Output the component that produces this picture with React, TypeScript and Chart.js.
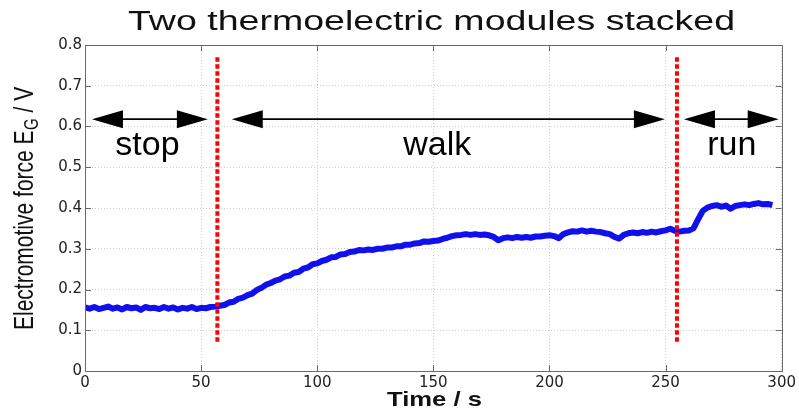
import React, { useEffect, useRef } from "react";
import { Chart, registerables } from "chart.js";

Chart.register(...registerables);

// ---- data ----
const TIME = [
  0, 2, 4, 6, 8, 10, 12, 14, 16, 18, 20, 22, 24, 26, 28, 30, 32, 34, 36, 38, 40, 42, 44, 46, 48, 50, 52, 54, 56,
  58, 60, 62, 64, 66, 68, 70, 72, 74, 76, 78, 80, 82, 84, 86, 88, 90, 92, 94, 96, 98, 100, 102, 104, 106, 108,
  110, 112, 114, 116, 118, 120, 122, 124, 126, 128, 130, 132, 134, 136, 138, 140, 142, 144, 146, 148, 150, 152,
  154, 156, 158, 160, 162, 164, 166, 168, 170, 172, 174, 176, 178, 180, 182, 184, 186, 188, 190, 192, 194, 196,
  198, 200, 202, 204, 206, 208, 210, 212, 214, 216, 218, 220, 222, 224, 226, 228, 230, 232, 234, 236, 238, 240,
  242, 244, 246, 248, 250, 252, 254, 256, 258, 260, 262, 264, 266, 268, 270, 272, 274, 276, 278, 280, 282, 284,
  286, 288, 290, 292, 294, 296,
];

const EMF = [
  0.156, 0.153, 0.157, 0.152, 0.155, 0.158, 0.153, 0.156, 0.151, 0.157, 0.154, 0.156, 0.15, 0.157, 0.154, 0.155,
  0.152, 0.157, 0.153, 0.156, 0.151, 0.155, 0.153, 0.157, 0.152, 0.155, 0.154, 0.157, 0.158,
  0.16, 0.162, 0.168, 0.17, 0.177, 0.18, 0.186, 0.19, 0.199, 0.204, 0.212, 0.216, 0.222, 0.225, 0.232, 0.234,
  0.241, 0.243, 0.251, 0.254, 0.262, 0.264, 0.27, 0.273, 0.279, 0.28, 0.286, 0.287, 0.292, 0.293, 0.297, 0.296,
  0.298, 0.297, 0.3, 0.3, 0.303, 0.303, 0.306, 0.306, 0.31, 0.31, 0.313, 0.314, 0.318, 0.317, 0.319, 0.32, 0.324,
  0.327,
  0.331, 0.333, 0.334, 0.336, 0.334, 0.336, 0.334, 0.335, 0.333, 0.329, 0.321, 0.326, 0.328, 0.326, 0.329, 0.327,
  0.329, 0.327, 0.33, 0.33, 0.332, 0.333, 0.331, 0.326, 0.336, 0.34, 0.343, 0.342, 0.345, 0.342, 0.344, 0.342,
  0.341, 0.338, 0.336, 0.329, 0.325, 0.334, 0.338, 0.34, 0.338, 0.341, 0.339, 0.342, 0.34, 0.343, 0.345, 0.349,
  0.344, 0.342, 0.344, 0.345, 0.35,
  0.372, 0.393, 0.401, 0.405, 0.407, 0.403, 0.406, 0.398, 0.405, 0.407, 0.409, 0.407, 0.41, 0.412, 0.409, 0.41,
  0.407,
];

const X_MIN = 0;
const X_MAX = 300;
const X_STEP = 50;
const Y_MIN = 0;
const Y_MAX = 0.8;
const Y_STEP = 0.1;

const PHASE_BOUNDARIES = [57.0, 254.9];
const BOUNDARY_Y_RANGE = [0.072, 0.77];

const PHASE_LABELS = ["stop", "walk", "run"];
const PHASE_LABEL_X = [26.9, 151.7, 278.5];
const PHASE_ARROW_START = [3.0, 63.2, 257.9];
const PHASE_ARROW_END = [52.9, 249.7, 298.7];
const ARROW_Y = 0.618;
const LABEL_Y = 0.531;

const TITLE = "Two thermoelectric modules stacked";
const X_TITLE = "Time / s";
const Y_TITLE_MAIN = "Electromotive force E";
const Y_TITLE_SUB = "G";
const Y_TITLE_END = " / V";

const SANS = '"Liberation Sans", Arial, Helvetica, sans-serif';

function drawFitText(
  ctx: CanvasRenderingContext2D,
  text: string,
  x: number,
  y: number,
  font: string,
  width: number
) {
  ctx.save();
  ctx.font = font;
  const w = ctx.measureText(text).width;
  const s = width / w;
  ctx.translate(x, y);
  ctx.scale(s, 1);
  ctx.textAlign = "center";
  ctx.textBaseline = "alphabetic";
  ctx.fillText(text, 0, 0);
  ctx.restore();
}

const decorPlugin = {
  id: "decor",
  afterDraw(chart: any) {
    const ctx: CanvasRenderingContext2D = chart.ctx;
    const xs = chart.scales.x;
    const ys = chart.scales.y;
    const area = chart.chartArea;

    ctx.save();
    // box
    ctx.strokeStyle = "#6a6a6a";
    ctx.lineWidth = 1;
    ctx.strokeRect(Math.round(area.left) + 0.5, Math.round(area.top) + 0.5,
      Math.round(area.right - area.left), Math.round(area.bottom - area.top));

    // inward ticks
    ctx.beginPath();
    for (let v = X_MIN; v <= X_MAX; v += X_STEP) {
      const px = Math.round(xs.getPixelForValue(v)) + 0.5;
      ctx.moveTo(px, area.bottom);
      ctx.lineTo(px, area.bottom - 6);
      ctx.moveTo(px, area.top);
      ctx.lineTo(px, area.top + 6);
    }
    for (let i = 0; i <= Math.round((Y_MAX - Y_MIN) / Y_STEP); i++) {
      const v = Y_MIN + i * Y_STEP;
      const py = Math.round(ys.getPixelForValue(v)) + 0.5;
      ctx.moveTo(area.left, py);
      ctx.lineTo(area.left + 6, py);
      ctx.moveTo(area.right, py);
      ctx.lineTo(area.right - 6, py);
    }
    ctx.stroke();

    // arrows
    ctx.fillStyle = "#000";
    ctx.strokeStyle = "#000";
    ctx.lineWidth = 1.6;
    const ay = ys.getPixelForValue(ARROW_Y);
    const headL = 31;
    const headH = 9;
    for (let i = 0; i < PHASE_LABELS.length; i++) {
      const x1 = xs.getPixelForValue(PHASE_ARROW_START[i]);
      const x2 = xs.getPixelForValue(PHASE_ARROW_END[i]);
      ctx.beginPath();
      ctx.moveTo(x1 + headL - 2, ay);
      ctx.lineTo(x2 - headL + 2, ay);
      ctx.stroke();
      ctx.beginPath();
      ctx.moveTo(x1, ay);
      ctx.lineTo(x1 + headL, ay - headH);
      ctx.lineTo(x1 + headL, ay + headH);
      ctx.closePath();
      ctx.fill();
      ctx.beginPath();
      ctx.moveTo(x2, ay);
      ctx.lineTo(x2 - headL, ay - headH);
      ctx.lineTo(x2 - headL, ay + headH);
      ctx.closePath();
      ctx.fill();
    }

    // phase labels
    ctx.font = `34px ${SANS}`;
    ctx.textAlign = "center";
    ctx.textBaseline = "alphabetic";
    const ly = ys.getPixelForValue(LABEL_Y);
    for (let i = 0; i < PHASE_LABELS.length; i++) {
      ctx.fillText(PHASE_LABELS[i], xs.getPixelForValue(PHASE_LABEL_X[i]), ly);
    }

    // title
    ctx.fillStyle = "#111";
    drawFitText(ctx, TITLE, 431.5, 29.5, `27px ${SANS}`, 607);
    // x title
    drawFitText(ctx, X_TITLE, 434.5, 406, `bold 21px ${SANS}`, 95);

    // y title (rotated, with subscript)
    ctx.save();
    ctx.translate(33, 330);
    ctx.rotate(-Math.PI / 2);
    ctx.scale(1, 1.3);
    ctx.textAlign = "left";
    ctx.textBaseline = "alphabetic";
    ctx.font = `21px ${SANS}`;
    ctx.fillText(Y_TITLE_MAIN, 0, 0);
    const w1 = ctx.measureText(Y_TITLE_MAIN).width;
    ctx.font = `15px ${SANS}`;
    ctx.fillText(Y_TITLE_SUB, w1 + 0.5, 3.5);
    const w2 = ctx.measureText(Y_TITLE_SUB).width;
    ctx.font = `21px ${SANS}`;
    ctx.fillText(Y_TITLE_END, w1 + 0.5 + w2, 0);
    ctx.restore();

    ctx.restore();
  },
};

export default function App() {
  const canvasRef = useRef<HTMLCanvasElement | null>(null);

  useEffect(() => {
    if (!canvasRef.current) return;
    const lineData = TIME.map((t, i) => ({ x: t, y: EMF[i] }));
    const boundarySets = PHASE_BOUNDARIES.map((b) => ({
      data: [
        { x: b, y: BOUNDARY_Y_RANGE[0] },
        { x: b, y: BOUNDARY_Y_RANGE[1] },
      ],
      borderColor: "#ff0000",
      borderWidth: 4,
      borderDash: [4.5, 2.5],
      pointRadius: 0,
      order: 0,
      tension: 0,
    }));

    const chart = new Chart(canvasRef.current, {
      type: "line",
      data: {
        datasets: [
          ...boundarySets,
          {
            data: lineData,
            borderColor: "#1010ee",
            borderWidth: 6,
            pointRadius: 0,
            order: 1,
            tension: 0,
            borderJoinStyle: "round",
          },
        ] as any,
      },
      options: {
        animation: false,
        responsive: false,
        devicePixelRatio: 1,
        events: [],
        layout: { padding: { left: 0, right: 16, top: 45, bottom: 0 } },
        plugins: {
          legend: { display: false },
          tooltip: { enabled: false },
          title: { display: false },
        },
        scales: {
          x: {
            type: "linear",
            min: X_MIN,
            max: X_MAX,
            afterFit: (s: any) => {
              s.height = 37;
            },
            ticks: {
              stepSize: X_STEP,
              padding: 3,
              color: "#222",
              font: { family: "DejaVu Sans", size: 15 },
              maxRotation: 0,
              autoSkip: false,
            },
            grid: {
              color: "#cfcfcf",
              drawTicks: false,
              tickLength: 0,
            },
            border: { display: true, color: "#6a6a6a", dash: [1, 2] },
          },
          y: {
            type: "linear",
            min: Y_MIN,
            max: Y_MAX,
            afterFit: (s: any) => {
              s.width = 85;
            },
            ticks: {
              stepSize: Y_STEP,
              padding: 3,
              color: "#222",
              font: { family: "DejaVu Sans", size: 15 },
              autoSkip: false,
              callback: (v: any) => (Number(v) === 0 ? "0" : Number(v).toFixed(1)),
            },
            grid: {
              color: "#cfcfcf",
              drawTicks: false,
              tickLength: 0,
            },
            border: { display: true, color: "#6a6a6a", dash: [1, 2] },
          },
        },
      },
      plugins: [decorPlugin],
    });
    return () => chart.destroy();
  }, []);

  return (
    <div style={{ position: "fixed", left: 0, top: 0, width: 799, height: 408, background: "#fff" }}>
      <canvas ref={canvasRef} width={799} height={408} style={{ display: "block" }} />
    </div>
  );
}
